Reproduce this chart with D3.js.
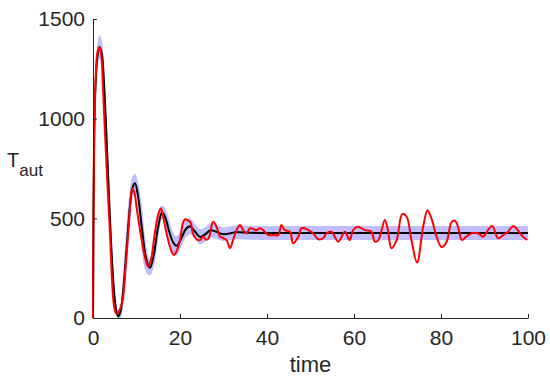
<!DOCTYPE html>
<html>
<head>
<meta charset="utf-8">
<script src="https://cdn.jsdelivr.net/npm/d3@7"></script>
<style>
  body { margin: 0; background: #fff; }
  text { font-family: "Liberation Sans", Arial, sans-serif; fill: #262626; }
  .tick line, .domain { stroke: #262626; }
</style>
</head>
<body>
<svg width="550" height="381"></svg>
<script>
// mean trajectory (black) and its spread (blue band)
const meanTime = [0, 0.3, 0.7, 1.0, 1.5, 2.0, 2.5, 3.0, 3.5, 4.0, 4.5, 5.0, 5.4, 5.8, 6.3, 6.9, 7.7, 8.5, 9.1, 9.65,
  10.3, 11.2, 12.2, 13.1, 14.0, 15.0, 15.9, 16.7, 17.5, 18.4, 19.2, 20.2, 21.3, 22.3, 23.4, 24.6, 25.8, 27.0, 28.4,
  30, 33, 36, 40, 50, 60, 70, 80, 90, 100];
const meanValue = [0, 950, 1220, 1310, 1360, 1330, 1190, 960, 700, 450, 240, 95, 35, 8, 30, 130, 341, 560, 655, 676,
  620, 458, 300, 252, 320, 460, 530, 500, 435, 380, 362, 395, 445, 460, 435, 407, 420, 440, 432,
  420, 430, 428, 426, 426, 426, 426, 426, 426, 426];
const meanSpread = [0, 40, 55, 60, 60, 65, 90, 110, 120, 110, 80, 40, 20, 12, 30, 80, 120, 90, 55, 48,
  70, 110, 70, 38, 60, 60, 36, 45, 55, 50, 48, 45, 42, 40, 38, 38, 36, 35, 35,
  35, 35, 35, 35, 35, 35, 35, 35, 35, 35];

// single stochastic run (red)
const runTime = [0, 0.25, 0.6, 1.0, 1.46, 1.9, 2.3, 2.76, 3.3, 3.9, 4.3, 4.67, 5.0, 5.3, 5.7, 6.2, 6.6, 7.0, 7.5, 8.1,
  8.6, 9.0, 9.5, 10.0, 10.6, 11.2, 12.0, 12.7, 13.4, 14.2, 15.0, 15.6, 16.2, 16.9, 17.8, 18.6, 19.3, 20.0, 20.6, 21.1,
  21.8, 22.4, 22.9, 23.4, 24.0, 24.6, 25.3, 26.1, 26.6, 27.6, 28.4, 29.2, 30.0, 30.7, 31.5, 32.2, 33.0, 33.8, 34.5, 35.3,
  36.1, 37.6, 38.4, 39.1, 40.3, 41.5, 42.6, 43.3, 44.1, 45.3, 46.0, 47.2, 47.9, 48.7, 49.5, 50.6, 51.8, 52.9, 53.7, 54.8,
  56.4, 57.9, 59.0, 59.8, 60.9, 62.5, 64.0, 64.8, 65.6, 67.1, 67.8, 68.6, 69.8, 71.1, 72.1, 73.2, 74.5, 75.9, 76.9, 77.8,
  79.0, 80.1, 81.3, 82.4, 83.2, 83.9, 84.8, 85.8, 87.0, 88.5, 89.7, 90.8, 91.8, 93.1, 94.3, 95.4, 96.6, 97.3, 98.5, 99.8];
const runValue = [0, 900, 1200, 1330, 1361, 1320, 1150, 927, 680, 425, 220, 90, 40, 23, 25, 45, 70, 124, 260, 425,
  580, 650, 630, 558, 470, 391, 300, 257, 300, 425, 520, 550, 500, 425, 350, 316, 340, 391, 470, 495,
  490, 480, 430, 405, 392, 391, 408, 392, 400, 483, 458, 408, 400, 391, 350, 391, 441, 467, 441, 425,
  450, 441, 450, 441, 416, 416, 416, 467, 441, 433, 375, 408, 450, 450, 441, 425, 395, 400, 425, 433,
  383, 433, 391, 441, 458, 441, 433, 383, 391, 492, 441, 350, 391, 522, 508, 391, 278, 458, 540, 500,
  408, 356, 383, 480, 488, 458, 391, 408, 425, 425, 408, 441, 462, 400, 416, 433, 462, 450, 416, 391];

const xTicks = [0, 20, 40, 60, 80, 100];
const yTicks = [0, 500, 1000, 1500];

const svg = d3.select('svg');
const x = d3.scaleLinear().domain([0, 100]).range([93, 528]);
const y = d3.scaleLinear().domain([0, 1500]).range([318, 19]);

const meanData = meanTime.map((t, i) => ({ t, v: meanValue[i], s: meanSpread[i] }));
const runData = runTime.map((t, i) => ({ t, v: runValue[i] }));

// band
const band = d3.area()
  .x(d => x(d.t))
  .y0(d => y(Math.max(0, d.v - d.s)))
  .y1(d => y(d.v + d.s))
  .curve(d3.curveCatmullRom);
svg.append('path')
  .attr('d', band(meanData))
  .attr('fill', '#0000ff')
  .attr('fill-opacity', 0.25);

const lineGen = d3.line()
  .x(d => x(d.t))
  .y(d => y(d.v))
  .curve(d3.curveCatmullRom);

svg.append('path')
  .attr('d', lineGen(meanData))
  .attr('fill', 'none')
  .attr('stroke', '#000')
  .attr('stroke-width', 2);

svg.append('path')
  .attr('d', lineGen(runData))
  .attr('fill', 'none')
  .attr('stroke', '#ff0000')
  .attr('stroke-width', 2)
  .attr('stroke-linejoin', 'round');

// axes, ticks pointing inward
const xAxisG = svg.append('g')
  .attr('transform', `translate(0,${y(0)})`)
  .call(d3.axisBottom(x).tickValues(xTicks).tickFormat(d3.format('d'))
    .tickSize(-4).tickSizeOuter(0).tickPadding(12));
const yAxisG = svg.append('g')
  .attr('transform', `translate(${x(0)},0)`)
  .call(d3.axisLeft(y).tickValues(yTicks).tickFormat(d3.format('d'))
    .tickSize(-4).tickSizeOuter(0).tickPadding(8));

svg.selectAll('.tick text')
  .attr('font-size', 21)
  .style('font-family', '"Liberation Sans", Arial, sans-serif')
  .attr('fill', '#262626');

svg.append('text')
  .attr('x', x(50))
  .attr('y', 372)
  .attr('text-anchor', 'middle')
  .attr('font-size', 22)
  .text('time');

const yLabel = svg.append('text')
  .attr('x', 7)
  .attr('y', 167)
  .attr('font-size', 20);
yLabel.append('tspan').text('T');
yLabel.append('tspan')
  .attr('dy', 9)
  .attr('font-size', 17)
  .text('aut');
</script>
</body>
</html>
